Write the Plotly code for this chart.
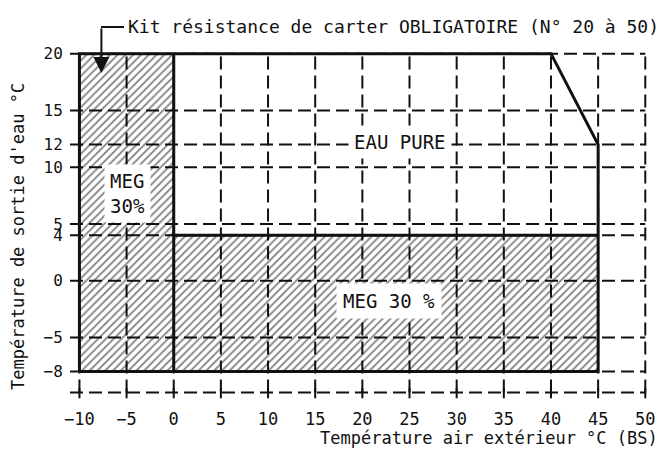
import plotly.graph_objects as go

# ---- data ----
x_ticks = [-10, -5, 0, 5, 10, 15, 20, 25, 30, 35, 40, 45, 50]
y_ticks = [-8, -5, 0, 4, 5, 10, 12, 15, 20]
x_tick_text = ["−10", "−5", "0", "5", "10", "15", "20", "25", "30", "35", "40", "45", "50"]
y_tick_text = ["−8", "−5", "0", "4", "5", "10", "12", "15", "20"]

# operating envelope (outer boundary)
envelope_x = [-10, -10, 40, 45, 45, -10]
envelope_y = [-8, 20, 20, 12, -8, -8]

# MEG 30 % zone (hatched)
meg_x = [-10, -10, 0, 0, 45, 45, -10]
meg_y = [-8, 20, 20, 4, 4, -8, -8]

# internal dividers
divider_x = [0, 0, None, 0, 45]
divider_y = [-8, 20, None, 4, 4]

X_AXIS_Y = -9.85
INK = "#111111"
FONT = "DejaVu Sans Mono"
DASH = "13px,6px"

fig = go.Figure()

fig.add_trace(go.Scatter(
    x=meg_x, y=meg_y, mode="none", fill="toself",
    fillcolor="rgba(0,0,0,0)",
    fillpattern=dict(shape="/", fgcolor="#000000", bgcolor="rgba(0,0,0,0)", size=5.5, solidity=0.32),
    hoverinfo="skip", showlegend=False))

fig.add_trace(go.Scatter(x=envelope_x, y=envelope_y, mode="lines",
                         line=dict(color=INK, width=3), showlegend=False, hoverinfo="skip"))
fig.add_trace(go.Scatter(x=divider_x, y=divider_y, mode="lines",
                         line=dict(color=INK, width=3), showlegend=False, hoverinfo="skip"))

shapes = []
for yv in y_ticks:
    shapes.append(dict(type="line", xref="x", yref="y", x0=-11, x1=50, y0=yv, y1=yv,
                       line=dict(color=INK, width=2, dash=DASH), layer="below"))
for xv in x_ticks:
    shapes.append(dict(type="line", xref="x", yref="y", x0=xv, x1=xv, y0=X_AXIS_Y, y1=20,
                       line=dict(color=INK, width=2, dash=DASH), layer="below"))
    shapes.append(dict(type="line", xref="x", yref="y", x0=xv, x1=xv,
                       y0=X_AXIS_Y - 0.5, y1=X_AXIS_Y + 0.4,
                       line=dict(color=INK, width=2), layer="below"))
shapes.append(dict(type="line", xref="x", yref="y", x0=-11, x1=50, y0=X_AXIS_Y, y1=X_AXIS_Y,
                   line=dict(color=INK, width=2, dash=DASH), layer="below"))
# leader of the title callout
shapes.append(dict(type="line", xref="paper", yref="paper", x0=0.0534, x1=0.0931,
                   y0=1.0597, y1=1.0597, line=dict(color=INK, width=2)))
fig.update_layout(shapes=shapes)

annotations = [
    dict(text="Kit résistance de carter OBLIGATOIRE (N° 20 à 50)", xref="paper", yref="paper",
         x=0.0966, y=1.0597, xanchor="left", yanchor="middle", showarrow=False,
         font=dict(family=FONT, size=18, color=INK)),
    dict(text="", xref="x", yref="y", x=-7.67, y=18.3, ax=0, ay=-46, showarrow=True,
         arrowhead=2, arrowsize=1.6, arrowwidth=2, arrowcolor=INK),
    dict(text="EAU PURE", xref="x", yref="y", x=24, y=12.2, showarrow=False,
         bgcolor="white", borderpad=5, font=dict(family=FONT, size=19, color=INK)),
    dict(text="MEG 30 %", xref="x", yref="y", x=22.8, y=-1.8, showarrow=False,
         bgcolor="white", borderpad=6, font=dict(family=FONT, size=19, color=INK)),
    dict(text="MEG<br>30%", xref="x", yref="y", x=-4.9, y=7.7, showarrow=False,
         bgcolor="white", borderpad=5, font=dict(family=FONT, size=19, color=INK)),
    dict(text="Température air extérieur °C (BS)", xref="paper", yref="paper",
         x=1.017, y=-0.108, xanchor="right", yanchor="middle", showarrow=False,
         font=dict(family=FONT, size=17, color=INK)),
    dict(text="Température de sortie d'eau °C", xref="paper", yref="paper",
         x=-0.0897, y=0.466, xanchor="center", yanchor="middle", textangle=-90,
         showarrow=False, font=dict(family=FONT, size=17, color=INK)),
]
fig.update_layout(annotations=annotations)

fig.update_xaxes(range=[-11, 50.5], tickvals=x_ticks, ticktext=x_tick_text,
                 showgrid=False, zeroline=False, showline=False,
                 ticks="outside", ticklen=4, tickcolor="rgba(0,0,0,0)",
                 tickfont=dict(family=FONT, size=17, color=INK))
fig.update_yaxes(range=[-10.5, 20.5], tickvals=y_ticks, ticktext=y_tick_text,
                 showgrid=False, zeroline=False, showline=False,
                 ticks="outside", ticklen=3, tickcolor="rgba(0,0,0,0)",
                 tickfont=dict(family=FONT, size=16, color=INK))

fig.update_layout(width=659, height=444, margin=dict(l=62, r=17, t=40, b=52),
                  paper_bgcolor="white", plot_bgcolor="white", showlegend=False)

fig.write_html("out.html")
